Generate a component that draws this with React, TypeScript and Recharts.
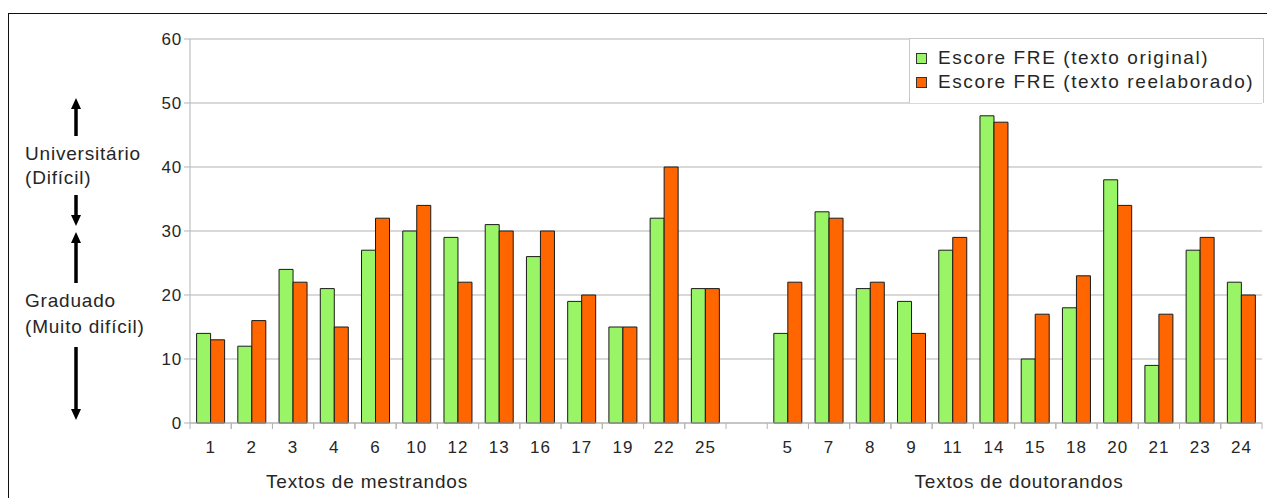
import React from "react";
import { BarChart, Bar, XAxis, YAxis, CartesianGrid } from "recharts";

// ---- data ----
const mestrandosLabels = ["1", "2", "3", "4", "6", "10", "12", "13", "16", "17", "19", "22", "25"];
const mestrandosOriginal = [14, 12, 24, 21, 27, 30, 29, 31, 26, 19, 15, 32, 21];
const mestrandosReelaborado = [13, 16, 22, 15, 32, 34, 22, 30, 30, 20, 15, 40, 21];

const doutorandosLabels = ["5", "7", "8", "9", "11", "14", "15", "18", "20", "21", "23", "24"];
const doutorandosOriginal = [14, 33, 21, 19, 27, 48, 10, 18, 38, 9, 27, 22];
const doutorandosReelaborado = [22, 32, 22, 14, 29, 47, 17, 23, 34, 17, 29, 20];

const yTicks = [0, 10, 20, 30, 40, 50, 60];
const seriesNames = ["Escore FRE (texto original)", "Escore FRE (texto reelaborado)"];
const groupTitles = ["Textos de mestrandos", "Textos de doutorandos"];
const levelLabels = [
  ["Universitário", "(Difícil)"],
  ["Graduado", "(Muito difícil)"],
];

// table built from arrays (with one empty separator category)
const data = [
  ...mestrandosLabels.map((name, i) => ({ name, original: mestrandosOriginal[i], reelaborado: mestrandosReelaborado[i] })),
  { name: " ", original: null, reelaborado: null },
  ...doutorandosLabels.map((name, i) => ({ name, original: doutorandosOriginal[i], reelaborado: doutorandosReelaborado[i] })),
];

// ---- layout ----
const W = 1267;
const H = 498;
const PLOT_LEFT = 190;
const PLOT_RIGHT = 1262;
const PLOT_TOP = 39;
const PLOT_BOTTOM = 423;
const Y_AXIS_W = 40;
const X_AXIS_H = 30;
const BAND = (PLOT_RIGHT - PLOT_LEFT) / data.length;

const FONT = "'Liberation Sans', Arial, sans-serif";
const TEXT = "#262626";
const AXIS = "#b3b3b3";
const GREEN = "#99f566";
const ORANGE = "#ff6600";

function XTick(props: any) {
  const { x, payload } = props;
  const label = String(payload.value);
  if (!label.trim()) return null;
  return (
    <g>
      <line x1={x - BAND / 2} x2={x - BAND / 2} y1={PLOT_BOTTOM} y2={PLOT_BOTTOM + 6} stroke={AXIS} strokeWidth={1} />
      <line x1={x + BAND / 2} x2={x + BAND / 2} y1={PLOT_BOTTOM} y2={PLOT_BOTTOM + 6} stroke={AXIS} strokeWidth={1} />
      <text x={x} y={PLOT_BOTTOM + 30} textAnchor="middle" fill={TEXT} fontSize={17} letterSpacing={1} fontFamily={FONT}>
        {label}
      </text>
    </g>
  );
}

function LegendBox() {
  const colors = [GREEN, ORANGE];
  return (
    <div
      style={{
        position: "absolute",
        left: 909,
        top: 38,
        border: "1px solid #c8c8c8",
        borderBottom: "none",
        background: "#fff",
        width: 355,
        height: 65,
        boxSizing: "border-box",
        padding: "7px 0 0 6px",
        fontFamily: FONT,
        fontSize: 19,
        color: TEXT,
        letterSpacing: 1.6,
      }}
    >
      {seriesNames.map((n, i) => (
        <div key={n} style={{ display: "flex", alignItems: "center", height: 24 }}>
          <span
            style={{
              display: "inline-block",
              width: 9,
              height: 9,
              background: colors[i],
              border: "1px solid #333",
              marginRight: 11,
            }}
          />
          <span style={{ whiteSpace: "nowrap" }}>{n}</span>
        </div>
      ))}
    </div>
  );
}

function Arrow({ x, tail, tip }: { x: number; tail: number; tip: number }) {
  const dir = tip < tail ? -1 : 1;
  const headLen = 11;
  const baseY = tip - dir * headLen;
  return (
    <g>
      <line x1={x} x2={x} y1={tail} y2={baseY} stroke="#000" strokeWidth={3.5} />
      <polygon points={`${x - 5},${baseY} ${x + 5},${baseY} ${x},${tip}`} fill="#000" />
    </g>
  );
}

export default function App() {
  return (
    <div style={{ position: "fixed", left: 0, top: 0, width: W, height: H, overflow: "hidden", background: "#fff" }}>
      <div
        style={{
          position: "absolute",
          left: 8,
          top: 13,
          width: W,
          height: H,
          borderTop: "1.5px solid #111",
          borderLeft: "1.5px solid #111",
        }}
      />
      <div style={{ position: "absolute", left: 0, top: 0 }}>
        <BarChart
          width={W}
          height={H}
          data={data}
          margin={{ top: PLOT_TOP, right: W - PLOT_RIGHT, bottom: H - PLOT_BOTTOM - X_AXIS_H, left: PLOT_LEFT - Y_AXIS_W }}
          barCategoryGap="16%"
          barGap={0}
        >
          <CartesianGrid vertical={false} stroke={AXIS} strokeWidth={1} />
          <XAxis
            dataKey="name"
            height={X_AXIS_H}
            axisLine={{ stroke: AXIS }}
            tickLine={false}
            interval={0}
            tick={<XTick />}
          />
          <YAxis
            width={Y_AXIS_W}
            domain={[0, 60]}
            ticks={yTicks}
            axisLine={{ stroke: AXIS }}
            tickLine={{ stroke: AXIS }}
            tickSize={6}
            tick={{ fill: TEXT, fontSize: 17, fontFamily: FONT, letterSpacing: 0.8 }}
          />
          <Bar dataKey="original" name={seriesNames[0]} fill={GREEN} stroke="#1a1a1a" strokeWidth={1} isAnimationActive={false} />
          <Bar dataKey="reelaborado" name={seriesNames[1]} fill={ORANGE} stroke="#1a1a1a" strokeWidth={1} isAnimationActive={false} />
        </BarChart>
      </div>
      <LegendBox />
      <svg style={{ position: "absolute", left: 0, top: 0 }} width={W} height={H} pointerEvents="none">
        <g fontFamily={FONT} fill={TEXT} fontSize={19} letterSpacing={0.8}>
          <text x={25} y={160}>{levelLabels[0][0]}</text>
          <text x={25} y={184}>{levelLabels[0][1]}</text>
          <text x={25} y={307}>{levelLabels[1][0]}</text>
          <text x={25} y={333}>{levelLabels[1][1]}</text>
          <text x={367} y={488} textAnchor="middle">{groupTitles[0]}</text>
          <text x={1019} y={488} textAnchor="middle">{groupTitles[1]}</text>
        </g>
        <Arrow x={76} tail={136} tip={98} />
        <Arrow x={76} tail={195} tip={226} />
        <Arrow x={76} tail={283} tip={232} />
        <Arrow x={76} tail={347} tip={420} />
      </svg>
    </div>
  );
}
